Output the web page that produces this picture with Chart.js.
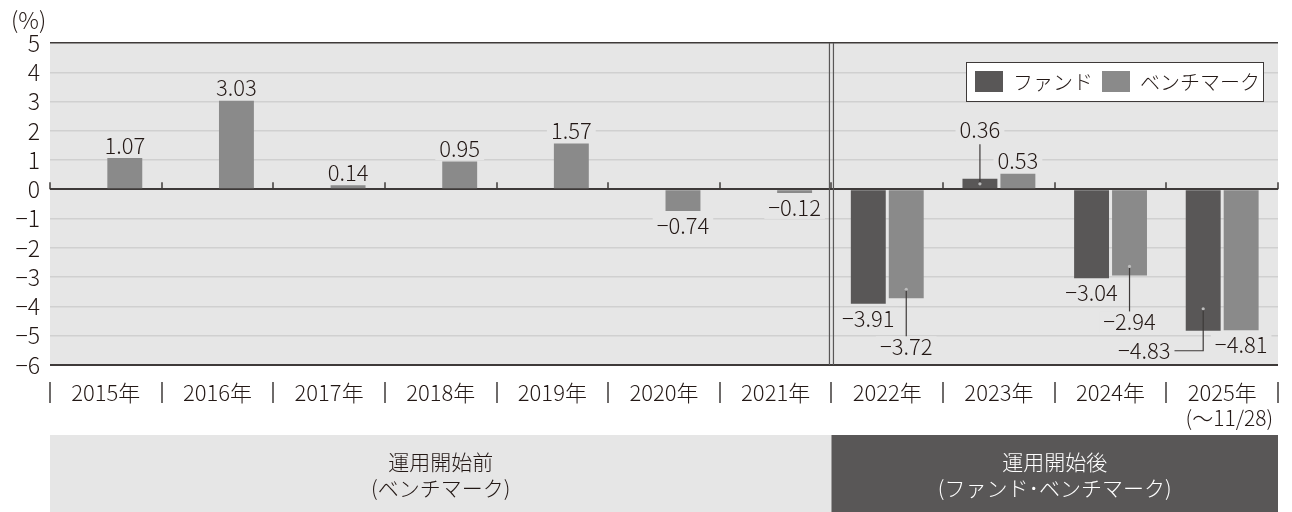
<!DOCTYPE html>
<html>
<head>
<meta charset="utf-8">
<script src="https://cdn.jsdelivr.net/npm/chart.js@4.4.1/dist/chart.umd.min.js"></script>
<style>
  html, body { margin: 0; padding: 0; background: #fff; }
  #wrap { width: 1292px; height: 512px; }
</style>
</head>
<body>
<div id="wrap"><canvas id="myChart" width="1292" height="512"></canvas></div>
<script>
// data
var years = ['2015年', '2016年', '2017年', '2018年', '2019年', '2020年', '2021年', '2022年', '2023年', '2024年', '2025年'];
var fundValues = [null, null, null, null, null, null, null, -3.91, 0.36, -3.04, -4.83];
var benchValues = [1.07, 3.03, 0.14, 0.95, 1.57, -0.74, -0.12, -3.72, 0.53, -2.94, -4.81];
var seriesNames = ['ファンド', 'ベンチマーク'];
var yMin = -6, yMax = 5, yStep = 1;
var unitLabel = '(%)';
var lastYearNote = '(〜11/28)';
var periodLabels = [['運用開始前', '(ベンチマーク)'], ['運用開始後', '(ファンド･ベンチマーク)']];
var launchIndex = 7; // 2022年 = first year after launch

var FONT = "'Noto Sans CJK JP', 'Noto Sans', sans-serif";
var INK = '#231815';
var LINE = '#3e3a39';
var PLOT_BG = '#e6e6e6';
var FUND_COLOR = '#595757';
var BENCH_COLOR = '#8a8a8a';

// label tweaks (dataset:index) -> extra shift + leader line
var labelPlacement = {
  '0:8': { dy: 36, leader: 'line', inset: 5 },
  '1:7': { dy: 34, leader: 'line', inset: 9 },
  '1:9': { dy: 32, leader: 'line', inset: 9 },
  '0:10': { dx: -59, dy: 5, leader: 'elbow', inset: 22 }
};

function fmt(v) {
  var s = Math.abs(v).toFixed(2);
  return v < 0 ? '−' + s : s;
}

var decor = {
  id: 'decor',
  beforeDraw: function (chart) {
    var c = chart.ctx, a = chart.chartArea, x = chart.scales.x;
    c.save();
    c.fillStyle = PLOT_BG;
    c.fillRect(a.left, a.top, a.right - a.left, a.bottom - a.top);

    // period panels under the axis
    var split = x.getPixelForValue(launchIndex - 0.5);
    var pTop = 435, pBot = 512;
    c.fillStyle = PLOT_BG;
    c.fillRect(a.left, pTop, split - a.left, pBot - pTop);
    c.fillStyle = FUND_COLOR;
    c.fillRect(split, pTop, a.right - split, pBot - pTop);
    c.font = '300 21px ' + FONT;
    c.textAlign = 'center';
    c.textBaseline = 'middle';
    c.fillStyle = INK;
    c.fillText(periodLabels[0][0], (a.left + split) / 2, 462);
    c.fillText(periodLabels[0][1], (a.left + split) / 2, 488);
    c.fillStyle = '#ffffff';
    c.fillText(periodLabels[1][0], (split + a.right) / 2, 462);
    c.fillText(periodLabels[1][1], (split + a.right) / 2, 488);
    c.restore();
  },
  afterDatasetsDraw: function (chart) {
    var c = chart.ctx, a = chart.chartArea, x = chart.scales.x, y = chart.scales.y;
    var zeroY = y.getPixelForValue(0);
    c.save();

    // double divider between before / after launch
    var split = x.getPixelForValue(launchIndex - 0.5);
    c.strokeStyle = FUND_COLOR;
    c.lineWidth = 1.2;
    [-2, 2].forEach(function (d) {
      c.beginPath();
      c.moveTo(split + d, a.top);
      c.lineTo(split + d, a.bottom);
      c.stroke();
    });

    // small ticks on zero line + separators under axis
    c.strokeStyle = LINE;
    c.lineWidth = 1.5;
    for (var i = 0; i <= years.length; i++) {
      var bx = Math.round(x.getPixelForValue(i - 0.5));
      c.beginPath();
      c.moveTo(bx, zeroY);
      c.lineTo(bx, zeroY - 7);
      c.stroke();
      c.beginPath();
      c.moveTo(bx, 382);
      c.lineTo(bx, 403);
      c.stroke();
    }

    // note under 2025
    c.font = '300 21px ' + FONT;
    c.fillStyle = INK;
    c.textAlign = 'right';
    c.textBaseline = 'middle';
    c.fillText(lastYearNote, 1273, 418);

    // unit
    c.textAlign = 'left';
    c.font = '300 23px ' + FONT;
    c.fillText(unitLabel, 11, 20);

    // value labels
    c.font = '300 22px ' + FONT;
    var cap = 16;
    chart.data.datasets.forEach(function (ds, d) {
      var meta = chart.getDatasetMeta(d);
      ds.data.forEach(function (v, i) {
        if (v === null) return;
        var el = meta.data[i];
        var cfg = labelPlacement[d + ':' + i] || {};
        var extra = cfg.dy || 0;
        var tx = el.x + (cfg.dx || 0);
        var base, top;
        if (v >= 0) {
          base = el.y - 4.5 - extra;
        } else {
          base = el.y + 7 + extra + cap;
        }
        top = base - cap;
        var txt = fmt(v);
        var w = c.measureText(txt).width;
        c.fillStyle = PLOT_BG;
        c.fillRect(tx - w / 2 - 4, top - 3, w + 8, cap + 6);
        c.fillStyle = INK;
        c.textAlign = 'center';
        c.textBaseline = 'alphabetic';
        c.fillText(txt, tx, base);

        if (cfg.leader) {
          c.strokeStyle = LINE;
          c.lineWidth = 1.2;
          var sy = v >= 0 ? el.y + cfg.inset : el.y - cfg.inset;
          c.beginPath();
          c.moveTo(el.x, sy);
          if (cfg.leader === 'line') {
            c.lineTo(el.x, v >= 0 ? base + 6 : top - 3);
          } else {
            var my = top + cap / 2;
            c.lineTo(el.x, my);
            c.lineTo(tx + w / 2 + 4, my);
          }
          c.stroke();
          c.fillStyle = '#bdbdbd';
          c.beginPath();
          c.arc(el.x, sy, 1.6, 0, Math.PI * 2);
          c.fill();
        }
      });
    });

    // legend
    var lx = 966, ly = 62, lw = 297, lh = 39;
    c.fillStyle = '#ffffff';
    c.fillRect(lx, ly, lw, lh);
    c.strokeStyle = LINE;
    c.lineWidth = 1;
    c.strokeRect(lx + 0.5, ly + 0.5, lw, lh);
    var items = [
      { x: lx + 9, color: FUND_COLOR, text: chart.data.datasets[0].label },
      { x: lx + 136, color: BENCH_COLOR, text: chart.data.datasets[1].label }
    ];
    c.font = '300 20px ' + FONT;
    c.textAlign = 'left';
    c.textBaseline = 'middle';
    items.forEach(function (it) {
      c.fillStyle = it.color;
      c.fillRect(it.x, ly + 9, 28, 21);
      c.fillStyle = INK;
      c.fillText(it.text, it.x + 38, ly + lh / 2 + 1);
    });

    c.restore();
  }
};

var ctx = document.getElementById('myChart');

new Chart(ctx, {
  type: 'bar',
  data: {
    labels: years,
    datasets: [
      {
        label: seriesNames[0],
        data: fundValues,
        backgroundColor: FUND_COLOR,
        categoryPercentage: 0.68,
        barPercentage: 0.92,
      },
      {
        label: seriesNames[1],
        data: benchValues,
        backgroundColor: BENCH_COLOR,
        categoryPercentage: 0.68,
        barPercentage: 0.92,
      },
    ],
  },
  options: {
    responsive: false,
    animation: false,
    devicePixelRatio: 1,
    layout: { padding: { top: 43, right: 14, left: 0, bottom: 0 } },
    plugins: {
      legend: { display: false },
      tooltip: { enabled: false },
    },
    scales: {
      x: {
        grid: { display: false },
        border: { display: false },
        ticks: {
          color: INK,
          font: { family: FONT, size: 22, weight: 300 },
          padding: 6,
          maxRotation: 0,
          autoSkip: false,
        },
        afterFit: function (s) { s.height = 147; },
      },
      y: {
        min: yMin,
        max: yMax,
        border: { display: false },
        grid: {
          drawTicks: false,
          color: function (c) {
            var v = c.tick.value;
            return (v === 0 || v === yMin || v === yMax) ? LINE : '#d0d0d0';
          },
          lineWidth: function (c) {
            var v = c.tick.value;
            return (v === 0 || v === yMin) ? 2 : 1.5;
          },
        },
        ticks: {
          stepSize: yStep,
          autoSkip: false,
          padding: 10,
          color: INK,
          font: { family: FONT, size: 23, weight: 300 },
          callback: function (v) { return v < 0 ? '−' + Math.abs(v) : '' + v; },
        },
        afterFit: function (s) { s.width = 50; },
      },
    },
  },
  plugins: [decor],
});
</script>
</body>
</html>
